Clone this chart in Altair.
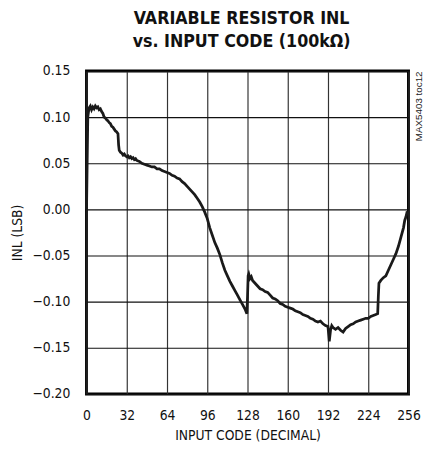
import altair as alt
import pandas as pd

codes = [0, 0.5, 1, 2, 3, 4, 5, 6, 7, 8, 9, 10, 11, 12, 13, 14, 15, 16, 17, 18, 19, 20,
         21, 22, 23, 24, 25, 25.5, 26, 27, 28, 29, 30, 31, 32, 33, 34, 35, 36, 37, 38, 39,
         40, 42, 44, 46, 48, 50, 52, 54, 56, 58, 60, 62, 64, 66, 68, 70, 72, 74, 76, 78,
         80, 82, 84, 86, 88, 90, 92, 94, 96, 98, 100, 102, 104, 106, 108, 110, 112, 114,
         116, 118, 120, 122, 124, 126, 127.5, 128, 128.5, 129, 130, 131, 132, 134, 136,
         138, 140, 142, 144, 146, 148, 150, 152, 154, 156, 158, 160, 162, 164, 166, 168,
         170, 172, 174, 176, 178, 180, 182, 184, 186, 188, 190, 192, 193, 194, 195, 196,
         198, 200, 202, 204, 206, 208, 210, 212, 214, 216, 218, 220, 222, 224, 226, 228,
         230, 231.5, 232, 232.5, 234, 236, 238, 240, 242, 244, 246, 248, 250, 252, 253,
         254, 255]
inl = [0.000, 0.050, 0.100, 0.110, 0.112, 0.108, 0.111, 0.109, 0.112, 0.110, 0.111,
       0.108, 0.109, 0.106, 0.104, 0.100, 0.099, 0.097, 0.096, 0.094, 0.093, 0.090,
       0.089, 0.087, 0.085, 0.084, 0.082, 0.070, 0.064, 0.062, 0.061, 0.059, 0.060,
       0.058, 0.057, 0.058, 0.056, 0.057, 0.055, 0.056, 0.054, 0.055, 0.053, 0.052,
       0.050, 0.049, 0.048, 0.047, 0.046, 0.046, 0.044, 0.044, 0.042, 0.041, 0.040,
       0.039, 0.037, 0.036, 0.034, 0.033, 0.030, 0.028, 0.025, 0.022, 0.019, 0.016,
       0.012, 0.008, 0.003, -0.003, -0.010, -0.020, -0.028, -0.036, -0.042, -0.049,
       -0.058, -0.066, -0.072, -0.078, -0.083, -0.088, -0.093, -0.098, -0.103, -0.108,
       -0.113, -0.095, -0.072, -0.070, -0.075, -0.073, -0.077, -0.080, -0.083, -0.086,
       -0.087, -0.089, -0.090, -0.093, -0.096, -0.097, -0.099, -0.102, -0.103, -0.105,
       -0.106, -0.107, -0.108, -0.110, -0.111, -0.112, -0.114, -0.115, -0.116, -0.118,
       -0.119, -0.121, -0.122, -0.121, -0.124, -0.126, -0.127, -0.143, -0.131, -0.126,
       -0.128, -0.130, -0.128, -0.131, -0.133, -0.129, -0.127, -0.125, -0.124, -0.122,
       -0.121, -0.120, -0.119, -0.118, -0.118, -0.116, -0.115, -0.114, -0.113, -0.095,
       -0.080, -0.077, -0.074, -0.072, -0.066, -0.060, -0.054, -0.048, -0.040, -0.030,
       -0.020, -0.012, -0.008, -0.002]

x_ticks = [0, 32, 64, 96, 128, 160, 192, 224, 256]
y_ticks = [-0.20, -0.15, -0.10, -0.05, 0.00, 0.05, 0.10, 0.15]
title_lines = ["VARIABLE RESISTOR INL", "vs. INPUT CODE (100k\u03a9)"]
note = "MAX5403 toc12"

df = pd.DataFrame({"code": codes, "inl": inl})

W, H = 328, 329
FONT = "DejaVu Sans Condensed"

line = alt.Chart(df).mark_line(color="#1a1a1a", strokeWidth=2.8, interpolate="linear").encode(
    x=alt.X("code:Q",
            scale=alt.Scale(domain=[0, 256], nice=False, zero=False),
            axis=alt.Axis(values=x_ticks, title="INPUT CODE (DECIMAL)", format="d",
                          grid=True, gridColor="#333333", gridWidth=1.2, gridOpacity=1,
                          domain=False, ticks=False, labelPadding=15,
                          labelFont=FONT, labelFontSize=14, labelColor="#111",
                          titleFont=FONT, titleFontSize=14, titleFontWeight="normal",
                          titleColor="#111", titlePadding=6, labelFlush=False)),
    y=alt.Y("inl:Q",
            scale=alt.Scale(domain=[-0.20, 0.15], nice=False, zero=False),
            axis=alt.Axis(values=y_ticks, title="INL (LSB)", format=".2f",
                          grid=True, gridColor="#111111", gridWidth=1.2, gridOpacity=1,
                          domain=False, ticks=False, labelPadding=17,
                          labelFont=FONT, labelFontSize=14, labelColor="#111",
                          titleFont=FONT, titleFontSize=14, titleFontWeight="normal",
                          titleColor="#111", titlePadding=8, labelFlush=False)),
)

note_df = pd.DataFrame({"t": [note]})
txt = alt.Chart(note_df).mark_text(angle=270, align="center", baseline="middle",
                                   font="Liberation Sans", fontSize=10, color="#222").encode(
    x=alt.value(W + 11), y=alt.value(36), text="t:N")

chart = alt.layer(line, txt).properties(
    width=W, height=H,
    title=alt.TitleParams(text=title_lines, font=FONT, fontSize=18, fontWeight="bold",
                          color="#111", anchor="middle", dx=-6, offset=13, lineHeight=24),
    autosize=alt.AutoSizeParams(type="none"),
    padding={"left": 80, "top": 60, "right": 27, "bottom": 55},
).configure_view(stroke="#000000", strokeWidth=3)

chart.save("out.html", embed_options={"renderer": "svg", "actions": False})
